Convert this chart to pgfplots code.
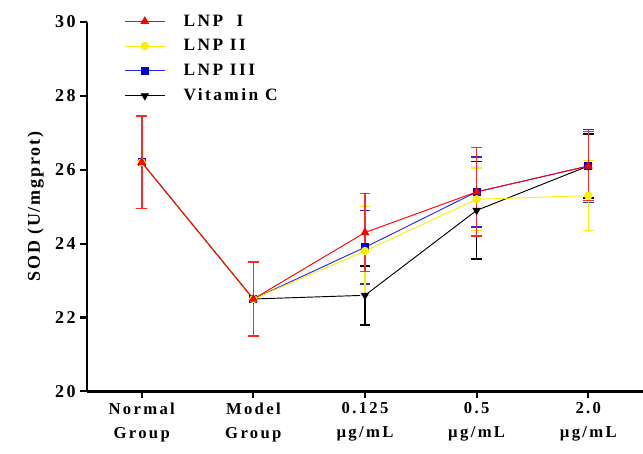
\documentclass[border=0pt]{standalone}
\usepackage{fontspec}
\setmainfont{Liberation Serif}
\newfontfamily\spaced[LetterSpace=14]{Liberation Serif}
\newfontfamily\lspaced[LetterSpace=10]{Liberation Serif}
\usepackage{pgfplots}
\pgfplotsset{compat=1.18}
\usepackage{pgfplotstable}
\definecolor{cred}{RGB}{255,0,0}
\definecolor{cerr}{RGB}{255,40,40}
\definecolor{cyel}{RGB}{250,240,0}
\definecolor{cblue}{RGB}{0,0,210}
\definecolor{cblueline}{RGB}{40,40,235}
\pgfplotstableread{
x y e
0 26.2 1.25
1 22.5 1.0
2 24.3 1.06
3 25.4 1.2
4 26.1 0.93
}\lnpone
\pgfplotstableread{
x y e
0 26.2 1.25
1 22.5 1.0
2 23.8 1.2
3 25.2 0.85
4 25.3 0.95
}\lnptwo
\pgfplotstableread{
x y e
0 26.2 1.25
1 22.5 1.0
2 23.9 1.0
3 25.4 0.95
4 26.1 0.99
}\lnpthree
\pgfplotstableread{
x y e
0 26.2 1.25
1 22.5 1.0
2 22.6 0.8
3 24.9 1.32
4 26.1 0.87
}\vitc
\begin{document}
\begin{tikzpicture}
\begin{axis}[
  scale only axis,
  width=417pt, height=277pt,
  xmin=-0.49, xmax=4.49,
  ymin=20, ymax=30,
  ytick={20,22,...,30},
  xtick={0,1,2,3,4},
  xticklabels={Normal\\Group, Model\\Group, 0.125\\µg/mL, 0.5\\µg/mL, 2.0\\µg/mL},
  xticklabel style={align=center, font=\spaced\bfseries\fontsize{12.5}{18}\selectfont},
  yticklabel style={font=\spaced\bfseries\fontsize{13.5}{15}\selectfont},
  /pgf/number format/assume math mode=true,
  axis x line*=bottom, axis y line*=left,
  axis line style={line width=2pt},
  tick style={line width=1.6pt, black},
  tick align=outside,
  major tick length=5pt,
  ylabel={SOD (U/mgprot)},
  ylabel style={font=\lspaced\bfseries\fontsize{13.5}{16}\selectfont},
  ylabel shift=1.5pt,
  clip=false,
  reverse legend,
  legend style={draw=none, fill=none, at={(rel axis cs:0.06,1.035)}, anchor=north west,
    font=\spaced\bfseries\fontsize{13}{15}\selectfont, row sep=4.5pt},
  legend cell align=left,
  legend image code/.code={\draw[mark repeat=2,mark phase=2] plot coordinates {(0cm,0cm) (0.52cm,0cm) (1.04cm,0cm)};
    \path (1.04cm+12pt,0cm);},
  every axis plot/.append style={line width=0.7pt},
  error bars/error bar style={line width=1.2pt},
  error bars/error mark options={rotate=90, mark size=4pt, line width=1.2pt},
]
\coordinate (sw) at (rel axis cs:0,0);
\coordinate (ne) at (rel axis cs:1,1);
\addplot[black, mark=triangle*, mark options={rotate=180, mark size=3pt},
  error bars/.cd, y dir=both, y explicit]
  table[x=x, y=y, y error=e] {\vitc};
\addlegendentry{Vitamin C}
\addplot[cblueline, mark=square*, mark options={fill=cblue, draw=cblue, mark size=2.6pt},
  error bars/.cd, y dir=both, y explicit]
  table[x=x, y=y, y error=e] {\lnpthree};
\addlegendentry{LNP III}
\addplot[cyel, mark=*, mark options={mark size=2.8pt},
  error bars/.cd, y dir=both, y explicit]
  table[x=x, y=y, y error=e] {\lnptwo};
\addlegendentry{LNP II}
\addplot[cred, mark=triangle*, mark options={mark size=3.2pt},
  error bars/.cd, y dir=both, y explicit, error bar style={cerr}]
  table[x=x, y=y, y error=e] {\lnpone};
\addlegendentry{LNP\ \ I}
\end{axis}
\pgfresetboundingbox
\path[use as bounding box] ([shift={(-65.25pt,-46.5pt)}]sw) rectangle ([shift={(0pt,16.5pt)}]ne);
\end{tikzpicture}
\end{document}
